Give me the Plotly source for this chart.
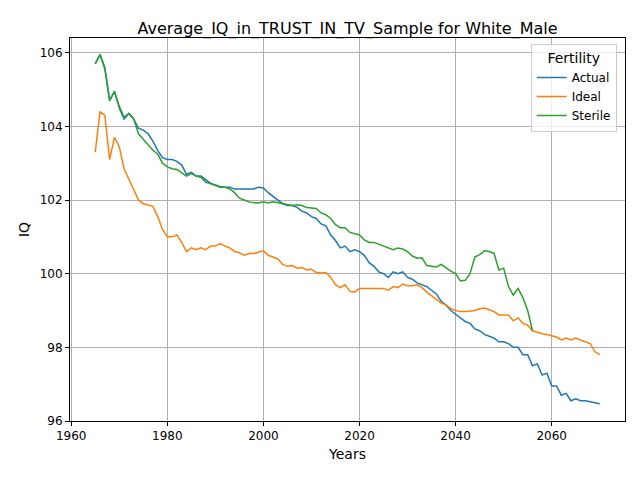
import plotly.graph_objects as go

years = list(range(1965, 2071))

actual = [105.7, 105.95, 105.6, 104.7, 104.95, 104.5, 104.2, 104.35, 104.2, 103.95,
          103.9, 103.8, 103.6, 103.35, 103.15, 103.1, 103.1, 103.05, 102.95, 102.7,
          102.75, 102.65, 102.65, 102.55, 102.45, 102.4, 102.35, 102.35, 102.35, 102.3,
          102.3, 102.28, 102.3, 102.3, 102.35, 102.33, 102.2, 102.1, 102.0, 101.9,
          101.85, 101.85, 101.8, 101.7, 101.65, 101.55, 101.5, 101.35, 101.3, 101.05,
          100.9, 100.7, 100.75, 100.6, 100.65, 100.6, 100.5, 100.3, 100.2, 100.05,
          100.0, 99.9, 100.05, 100.0, 100.05, 99.9, 99.85, 99.75, 99.7, 99.65,
          99.55, 99.45, 99.25, 99.15, 99.0, 98.9, 98.8, 98.7, 98.65, 98.5,
          98.45, 98.35, 98.3, 98.25, 98.15, 98.15, 98.1, 98.0, 98.0, 97.8,
          97.8, 97.5, 97.55, 97.25, 97.3, 96.95, 96.95, 96.7, 96.75, 96.55,
          96.6, 96.55, 96.55, 96.52, 96.5, 96.47]

ideal = [103.3, 104.4, 104.3, 103.1, 103.7, 103.45, 102.85, 102.55, 102.25, 102.0,
         101.9, 101.87, 101.83, 101.55, 101.2, 101.0, 101.0, 101.05, 100.85, 100.6,
         100.7, 100.65, 100.7, 100.65, 100.75, 100.75, 100.82, 100.75, 100.7, 100.6,
         100.57, 100.5, 100.55, 100.55, 100.58, 100.62, 100.5, 100.45, 100.4, 100.25,
         100.2, 100.22, 100.15, 100.17, 100.1, 100.12, 100.03, 100.02, 100.03, 99.9,
         99.7, 99.62, 99.7, 99.52, 99.5, 99.6, 99.6, 99.6, 99.62, 99.6,
         99.6, 99.55, 99.65, 99.62, 99.72, 99.67, 99.67, 99.7, 99.62, 99.5,
         99.4, 99.3, 99.2, 99.15, 99.05, 99.0, 98.97, 98.97, 98.98, 99.0,
         99.05, 99.07, 99.02, 98.97, 98.88, 98.88, 98.88, 98.72, 98.8, 98.65,
         98.6, 98.45, 98.4, 98.37, 98.35, 98.32, 98.28, 98.2, 98.25, 98.2,
         98.25, 98.2, 98.15, 98.1, 97.88, 97.8]

sterile = [105.7, 105.95, 105.55, 104.7, 104.95, 104.55, 104.25, 104.35, 104.2, 103.8,
           103.65, 103.5, 103.35, 103.25, 103.0, 102.9, 102.85, 102.83, 102.75, 102.65,
           102.72, 102.65, 102.62, 102.48, 102.45, 102.4, 102.37, 102.35, 102.3, 102.2,
           102.05, 102.0, 101.95, 101.93, 101.92, 101.95, 101.92, 101.95, 101.93, 101.9,
           101.87, 101.85, 101.87, 101.85, 101.8, 101.78, 101.77, 101.65, 101.6, 101.5,
           101.33, 101.25, 101.25, 101.12, 101.08, 101.05, 100.92, 100.85, 100.85, 100.8,
           100.75, 100.7, 100.65, 100.7, 100.67, 100.6, 100.48, 100.42, 100.43, 100.22,
           100.2, 100.18, 100.25, 100.15, 100.07, 100.0, 99.8, 99.82, 100.0, 100.45,
           100.52, 100.62, 100.6, 100.55, 100.1, 100.15, 99.65, 99.42, 99.6, 99.35,
           99.0, 98.45]

fig = go.Figure()
for name, vals, color in [("Actual", actual, "#1f77b4"),
                          ("Ideal", ideal, "#ff7f0e"),
                          ("Sterile", sterile, "#2ca02c")]:
    fig.add_trace(go.Scatter(x=years[:len(vals)], y=vals, mode="lines", name=name,
                             line=dict(color=color, width=1.5)))

axis_style = dict(showgrid=True, gridcolor="#b0b0b0", gridwidth=1, showline=True,
                  linecolor="black", mirror=True, ticks="outside", ticklen=4,
                  tickcolor="black", zeroline=False)
fig.update_xaxes(range=[1959.75, 2075.25], dtick=20,
                 title=dict(text="Years", standoff=6), **axis_style)
fig.update_yaxes(range=[96.0, 106.4], dtick=2,
                 title=dict(text="IQ", standoff=6), **axis_style)

fig.update_layout(
    title=dict(text="Average_IQ_in_TRUST_IN_TV_Sample for White_Male", x=0.5,
               xref="paper", y=0.97, xanchor="center", font=dict(size=16)),
    width=640, height=480,
    margin=dict(l=62, r=23, t=30, b=67),
    plot_bgcolor="white", paper_bgcolor="white",
    font=dict(family="DejaVu Sans", size=12, color="black"),
    legend=dict(title=dict(text="Fertility", side="top center"), x=0.985, y=0.985,
                xanchor="right", yanchor="top", bordercolor="#cccccc", borderwidth=1,
                bgcolor="rgba(255,255,255,0.8)", font=dict(size=12)),
)

fig.write_html("out.html")
